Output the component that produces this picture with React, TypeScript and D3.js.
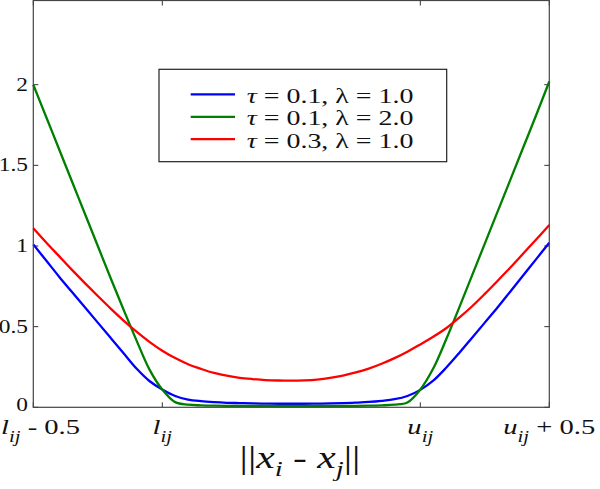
import { useMemo } from 'react'
import * as d3 from 'd3'

// sample positions, l_ij = 0 and u_ij = 1
const xs = [
  -0.5, -0.45, -0.4, -0.35, -0.3, -0.25, -0.2, -0.15, -0.1, -0.05,
  0, 0.05, 0.1, 0.15, 0.2, 0.25, 0.3, 0.35, 0.4, 0.45,
  0.5, 0.55, 0.6, 0.65, 0.7, 0.75, 0.8, 0.85, 0.9, 0.95,
  1.0, 1.05, 1.1, 1.15, 1.2, 1.25, 1.3, 1.35, 1.4, 1.45, 1.5,
]
const blueVals = [
  1.01, 0.91, 0.81, 0.715, 0.62, 0.525, 0.43, 0.335, 0.24, 0.163,
  0.11, 0.07, 0.048, 0.038, 0.032, 0.028, 0.026, 0.024, 0.023, 0.022,
  0.022, 0.022, 0.023, 0.024, 0.026, 0.029, 0.033, 0.04, 0.05, 0.07,
  0.108, 0.165, 0.245, 0.335, 0.43, 0.525, 0.62, 0.72, 0.82, 0.92, 1.02,
]
const greenVals = [
  2.0, 1.8, 1.6, 1.4, 1.2, 1.0, 0.8, 0.605, 0.415, 0.235,
  0.11, 0.032, 0.016, 0.012, 0.01, 0.009, 0.009, 0.008, 0.008, 0.008,
  0.008, 0.008, 0.008, 0.008, 0.009, 0.009, 0.01, 0.012, 0.016, 0.03,
  0.11, 0.24, 0.42, 0.615, 0.815, 1.015, 1.215, 1.415, 1.615, 1.815, 2.02,
]
const redVals = [
  1.11, 1.022, 0.937, 0.852, 0.77, 0.69, 0.612, 0.538, 0.469, 0.406,
  0.351, 0.305, 0.267, 0.238, 0.213, 0.196, 0.183, 0.175, 0.169, 0.166,
  0.165, 0.167, 0.172, 0.182, 0.197, 0.216, 0.24, 0.27, 0.305, 0.345,
  0.39, 0.437, 0.49, 0.555, 0.625, 0.703, 0.785, 0.868, 0.955, 1.042, 1.13,
]

const seriesNames = [
  { tau: '0.1', lambda: '1.0' },
  { tau: '0.1', lambda: '2.0' },
  { tau: '0.3', lambda: '1.0' },
]
const seriesColors = ['#0000ff', '#008000', '#ff0000']

const xTicks = [-0.5, 0, 1, 1.5]
const xTickLabels = [
  { v: 'l', rest: ' - 0.5' },
  { v: 'l', rest: '' },
  { v: 'u', rest: '' },
  { v: 'u', rest: ' + 0.5' },
]
const yTicks = [0, 0.5, 1, 1.5, 2]
const yTickLabels = ['0', '0.5', '1', '1.5', '2']

const FONT = '"Liberation Serif", "Times New Roman", "DejaVu Serif", serif'
const SX = 1.3 // the figure is stretched horizontally

export default function App() {
  const W = 600
  const H = 489
  const left = 33.3
  const right = 549.3
  const top = 0.5
  const bottom = 407.3

  const x = d3.scaleLinear().domain([-0.5, 1.5]).range([left, right])
  const y = d3.scaleLinear().domain([0, 2.5]).range([bottom, bottom - 2.5 * 161.3])

  const series = [blueVals, greenVals, redVals]
  const paths = useMemo(() => {
    const line = d3
      .line<number>()
      .x((_, i) => x(xs[i]))
      .y((d) => y(d))
      .curve(d3.curveCatmullRom.alpha(0.5))
    return series.map((s) => line(s) ?? '')
  }, [])

  const tl = 5

  return (
    <svg
      width={W}
      height={H}
      style={{ position: 'absolute', left: 0, top: 0, background: '#fff' }}
      fontFamily={FONT}
    >
      <rect x={0} y={0} width={W} height={H} fill="#fff" />

      {/* ticks */}
      <g stroke="#333" strokeWidth={1}>
        {yTicks.map((t) => (
          <g key={'y' + t}>
            <line x1={left} x2={left + tl} y1={y(t)} y2={y(t)} />
            <line x1={right} x2={right - tl} y1={y(t)} y2={y(t)} />
          </g>
        ))}
        {xTicks.map((t) => (
          <g key={'x' + t}>
            <line x1={x(t)} x2={x(t)} y1={bottom} y2={bottom - tl} />
            <line x1={x(t)} x2={x(t)} y1={top} y2={top + tl} />
          </g>
        ))}
      </g>

      {/* curves */}
      <g fill="none" strokeWidth={2.3} strokeLinejoin="round">
        {paths.map((d, i) => (
          <path key={i} d={d} stroke={seriesColors[i]} />
        ))}
      </g>

      {/* frame */}
      <rect
        x={left}
        y={top}
        width={right - left}
        height={bottom - top}
        fill="none"
        stroke="#444"
        strokeWidth={1.2}
      />

      {/* y labels */}
      {yTicks.map((t, i) => (
        <text
          key={'yl' + t}
          transform={`translate(28,${y(t) + (t === 0 ? 4 : 6)}) scale(${SX},1)`}
          fontSize={18}
          textAnchor="end"
          fill="#111"
        >
          {yTickLabels[i]}
        </text>
      ))}

      {/* x labels */}
      {xTicks.map((t, i) => {
        const lab = xTickLabels[i]
        const isFirst = i === 0
        const px = isFirst ? 1 : x(t)
        return (
          <text
            key={'xl' + t}
            transform={`translate(${px},434) scale(${SX},1)`}
            fontSize={22}
            textAnchor={isFirst ? 'start' : 'middle'}
            fill="#111"
          >
            <tspan fontStyle="italic">{lab.v}</tspan>
            <tspan fontStyle="italic" fontSize={16} dy={8}>
              ij
            </tspan>
            {lab.rest && <tspan dy={-8}>{lab.rest}</tspan>}
          </text>
        )
      })}

      {/* x axis title */}
      <text
        transform={`translate(300,468) scale(${SX},1)`}
        fontSize={32}
        textAnchor="middle"
        fill="#111"
      >
        <tspan>||</tspan>
        <tspan fontStyle="italic">x</tspan>
        <tspan fontStyle="italic" fontSize={22} dy={8}>
          i
        </tspan>
        <tspan dy={-8}> - </tspan>
        <tspan fontStyle="italic">x</tspan>
        <tspan fontStyle="italic" fontSize={22} dy={8}>
          j
        </tspan>
        <tspan dy={-8}>||</tspan>
      </text>

      {/* legend */}
      <g>
        <rect x={159} y={69.3} width={287.7} height={92.4} fill="#fff" stroke="#222" strokeWidth={1.2} />
        {seriesNames.map((s, i) => {
          const by = 103 + i * 22.4
          return (
            <g key={'lg' + i}>
              <line
                x1={190.7}
                x2={235}
                y1={by - 8.6}
                y2={by - 8.6}
                stroke={seriesColors[i]}
                strokeWidth={2.3}
              />
              <text
                transform={`translate(246.7,${by}) scale(${SX},1)`}
                fontSize={21.5}
                fill="#111"
              >
                <tspan fontStyle="italic">τ</tspan>
                <tspan>{` = ${s.tau}, λ = ${s.lambda}`}</tspan>
              </text>
            </g>
          )
        })}
      </g>
    </svg>
  )
}
